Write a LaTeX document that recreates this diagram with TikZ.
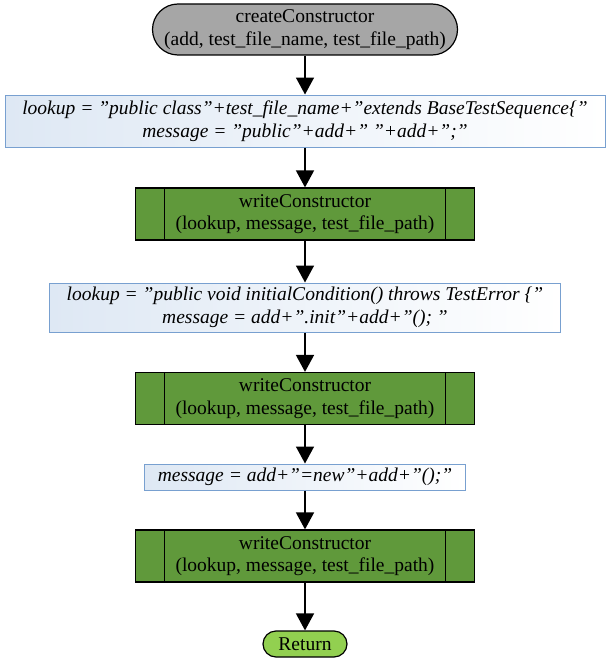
\documentclass[tikz,border=0pt]{standalone}
\usepackage{fontspec}
\setmainfont{Liberation Serif}
\usetikzlibrary{arrows.meta,shapes.misc}

\definecolor{termgray}{RGB}{166,166,166}
\definecolor{subgreen}{RGB}{96,153,59}
\definecolor{retgreen}{RGB}{146,208,80}
\definecolor{boxblue}{RGB}{120,160,208}
\definecolor{boxfill}{RGB}{222,232,244}

\newcommand{\chartfont}{\fontsize{19.5}{22.5}\selectfont}

\tikzset{
  terminal/.style={rounded rectangle, draw=black, line width=1.2pt, align=center, inner sep=0pt},
  process/.style={rectangle, draw=boxblue, line width=1pt, left color=boxfill, right color=white,
    align=center, inner sep=0pt, font=\chartfont\itshape},
  subproc/.style={rectangle, draw=black, line width=1.2pt, fill=subgreen, align=center,
    inner sep=0pt, minimum width=339pt, minimum height=52pt,
    path picture={
      \draw[line width=1.2pt] ([xshift=29pt]path picture bounding box.north west) -- ([xshift=29pt]path picture bounding box.south west);
      \draw[line width=1.2pt] ([xshift=-29pt]path picture bounding box.north east) -- ([xshift=-29pt]path picture bounding box.south east);
    }},
  flow/.style={line width=1.6pt, -{Triangle[width=18pt,length=17pt]}}
}

\begin{document}
\begin{tikzpicture}[x=1pt,y=-1pt,font=\chartfont]
  \useasboundingbox (0,0) rectangle (612,669);

  \node[terminal, fill=termgray, minimum width=305pt, minimum height=51pt] (start) at (305,29.5)
    {createConstructor\\(add, test\_file\_name, test\_file\_path)};
  \node[process, minimum width=600pt, minimum height=52pt] (look1) at (305,121)
    {lookup = "public class"+test\_file\_name+"extends BaseTestSequence\{"\\
     message = "public"+add+" "+add+";"};
  \node[subproc] (write1) at (305,214)
    {writeConstructor\\(lookup, message, test\_file\_path)};
  \node[process, minimum width=511pt, minimum height=49pt] (look2) at (305,307.5)
    {lookup = "public void initialCondition() throws TestError \{"\\
     message = add+".init"+add+"(); "};
  \node[subproc] (write2) at (305,398.5)
    {writeConstructor\\(lookup, message, test\_file\_path)};
  \node[process, minimum width=321pt, minimum height=26pt] (look3) at (305,477)
    {message = add+"=new"+add+"();"};
  \node[subproc] (write3) at (305,556)
    {writeConstructor\\(lookup, message, test\_file\_path)};
  \node[terminal, fill=retgreen, minimum width=84pt, minimum height=26pt] (ret) at (305,644)
    {Return};

  % connectors
  \draw[flow] (start) -- (look1);
  \draw[flow] (look1) -- (write1);
  \draw[flow] (write1) -- (look2);
  \draw[flow] (look2) -- (write2);
  \draw[flow] (write2) -- (look3);
  \draw[flow] (look3) -- (write3);
  \draw[flow] (write3) -- (ret);
\end{tikzpicture}
\end{document}
